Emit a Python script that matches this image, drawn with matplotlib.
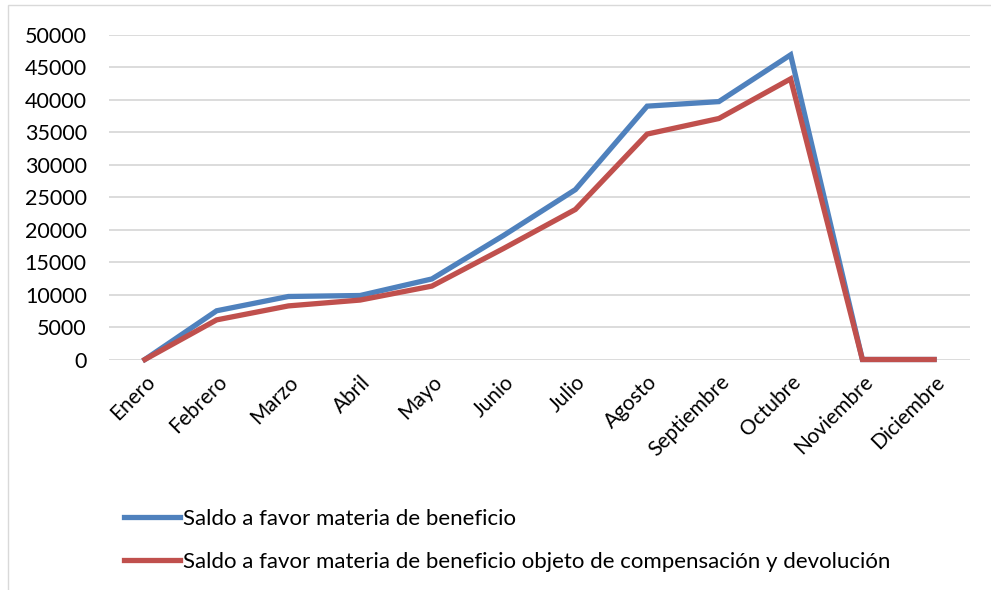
import matplotlib.pyplot as plt
from matplotlib.patches import Rectangle

meses = ['Enero', 'Febrero', 'Marzo', 'Abril', 'Mayo', 'Junio', 'Julio',
         'Agosto', 'Septiembre', 'Octubre', 'Noviembre', 'Diciembre']
saldo_beneficio = [0, 7500, 9700, 9850, 12400, 19100, 26150, 39000, 39700, 46900, 0, 0]
saldo_compensacion = [0, 6100, 8250, 9150, 11300, 17100, 23100, 34700, 37100, 43200, 0, 0]
y_ticks = list(range(0, 50001, 5000))

label_1 = 'Saldo a favor materia de beneficio'
label_2 = 'Saldo a favor materia de beneficio objeto de compensación y devolución'

plt.rcParams['font.family'] = ['Lato', 'DejaVu Sans']

fig = plt.figure(figsize=(9.91, 5.9), dpi=100)
W, H = 991, 590
ax = fig.add_axes([109 / W, 1 - 359.5 / H, (970 - 109) / W, (359.5 - 34.7) / H])

x = list(range(len(meses)))
ax.plot(x, saldo_beneficio, color='#4F81BD', lw=3.8, label=label_1,
        solid_joinstyle='miter', clip_on=False, zorder=3)
ax.plot(x, saldo_compensacion, color='#C0504D', lw=3.8, label=label_2,
        solid_joinstyle='miter', clip_on=False, zorder=4)

ax.set_xlim(-0.5, len(meses) - 0.5)
ax.set_ylim(0, 50000)
ax.set_yticks(y_ticks)
ax.set_yticklabels([str(v) for v in y_ticks], fontsize=15.5)
ax.set_xticks(x)
ax.set_xticklabels(meses, rotation=45, ha='right', rotation_mode='anchor', fontsize=15)
ax.tick_params(length=0)
ax.tick_params(axis='y', pad=16)
ax.tick_params(axis='x', pad=9)
ax.grid(axis='y', color='#D9D9D9', lw=1.3)
ax.set_axisbelow(True)
for s in ax.spines.values():
    s.set_visible(False)

fig.legend(loc='upper left', bbox_to_anchor=(104 / W, 1 - 489 / H), frameon=False,
           fontsize=16, handlelength=2.5, handletextpad=0.15, labelspacing=1.02)

fig.patches.append(Rectangle((8 / W, -0.1), 1.2, 1 - 5 / H + 0.1, transform=fig.transFigure,
                             fill=False, edgecolor='#D9D9D9', lw=1))

fig.savefig('out.png', dpi=100)
